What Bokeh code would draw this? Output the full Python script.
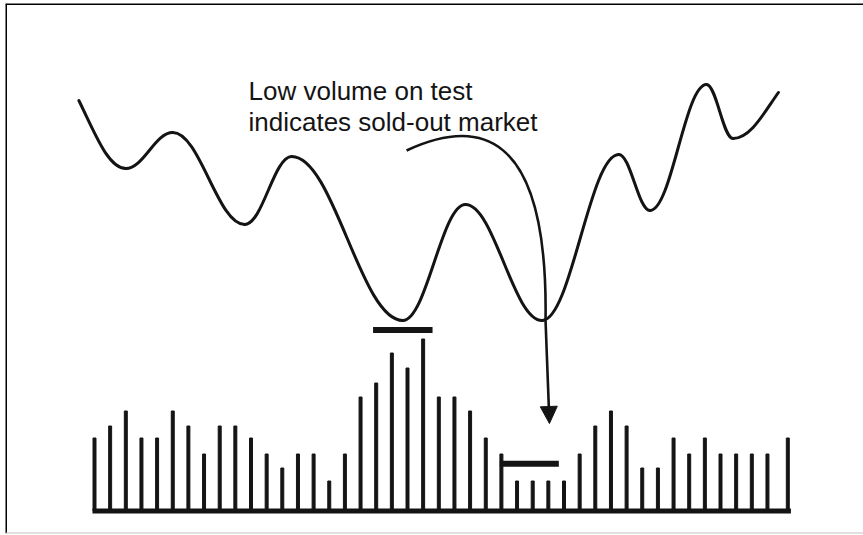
from bokeh.plotting import figure
from bokeh.models import Range1d, Label, Arrow, NormalHead, Span
from bokeh.embed import file_html
from bokeh.resources import INLINE

INK = "#141414"

# ---- data ----
# volume bars (one per session)
session = list(range(44)) + [44.3]
volume = [73, 85, 100, 73, 73, 100, 85, 57, 85, 85, 73, 57, 43, 57, 57, 30,
          57, 114, 128, 158, 143, 172, 114, 114, 100, 73, 57, 30, 30, 30, 30,
          57, 85, 100, 85, 43, 43, 73, 57, 73, 57, 57, 57, 57, 73]

# price swings (start, successive highs/lows, end)
price_t = [-1.0, 2.0, 5.0, 9.6, 12.6, 19.7, 23.7, 28.6, 33.5, 35.5, 39.1, 40.8, 43.7]
price = [105, 88, 97, 74, 91, 50, 79, 50, 91.5, 77.5, 109, 95.5, 107]

note_lines = ["Low volume on test", "indicates sold-out market"]

# ---- figure ----
p = figure(width=863, height=535, output_backend="svg", toolbar_location=None,
           x_range=Range1d(-5.687, 49.137), y_range=Range1d(-22.5, 507.5),
           x_axis_location=None, y_axis_location=None,
           min_border_left=5, min_border_top=3, min_border_bottom=2, min_border_right=0)
p.grid.visible = False
p.outline_line_color = None
p.background_fill_color = "white"
p.border_fill_color = "white"
p.extra_y_ranges = {"price": Range1d(-3.25, 129.25)}

# picture frame: left and top dark, bottom light, open on the right
p.add_layout(Span(location=p.x_range.start, dimension="height", line_color="black", line_width=3))
p.add_layout(Span(location=p.y_range.end, dimension="width", line_color="black", line_width=3))
p.add_layout(Span(location=p.y_range.start, dimension="width", line_color="#c4c4c4", line_width=2))

# volume bars and baseline
p.vbar(x=session, top=volume, bottom=0, width=0.19, color=INK)
p.segment(x0=[min(session) - 0.13], y0=[0], x1=[max(session) + 0.2], y1=[0],
          line_width=5, line_color=INK, line_cap="butt")

# smooth price curve through swing points (horizontal tangents at extremes)
a = 0.38
x0, y0, x1, y1, cx0, cy0, cx1, cy1 = [], [], [], [], [], [], [], []
n = len(price_t)
for i in range(n - 1):
    ta, pa, tb, pb = price_t[i], price[i], price_t[i + 1], price[i + 1]
    dx = tb - ta
    x0.append(ta); y0.append(pa); x1.append(tb); y1.append(pb)
    if i == 0:
        slope = 1.4 * (pb - pa) / dx
        cx0.append(ta + dx / 3); cy0.append(pa + slope * dx / 3)
    else:
        cx0.append(ta + a * dx); cy0.append(pa)
    if i == n - 2:
        slope = 1.4 * (pb - pa) / dx
        cx1.append(tb - dx / 3); cy1.append(pb - slope * dx / 3)
    else:
        cx1.append(tb - a * dx); cy1.append(pb)
p.bezier(x0=x0, y0=y0, x1=x1, y1=y1, cx0=cx0, cy0=cy0, cx1=cx1, cy1=cy1,
         line_width=3, line_color=INK, line_cap="round", y_range_name="price")

# volume markers
p.segment(x0=[17.8, 25.9], x1=[21.6, 29.67], y0=[181, 47.3], y1=[181, 47.3],
          line_width=6, line_color=INK, line_cap="butt")

# annotation arrow: curve from the note, through the test low, down to volume
p.bezier(x0=[19.94], y0=[92.5], cx0=[24.35], cy0=[100.5], cx1=[29.01], cy1=[98.75],
         x1=[28.82], y1=[50], line_width=2.6, line_color=INK, y_range_name="price")
p.add_layout(Arrow(x_start=28.82, y_start=50, x_end=29.07, y_end=24.25,
                   line_width=2.6, line_color=INK, y_range_name="price",
                   end=NormalHead(size=17, fill_color=INK, line_color=INK, line_width=1)))

# note text
for txt, yy in zip(note_lines, [107.3, 99.6]):
    p.add_layout(Label(x=9.84, y=yy, y_range_name="price", text=txt,
                       text_font="Liberation Sans", text_font_size="26px",
                       text_baseline="alphabetic", text_align="left", text_color=INK))

open("out.html", "w").write(file_html(p, INLINE))
